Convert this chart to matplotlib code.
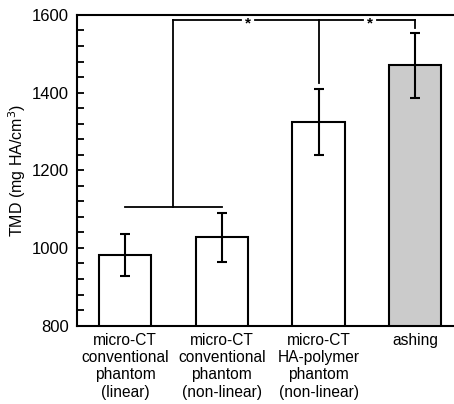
import numpy as np
import matplotlib
matplotlib.use("Agg")
import matplotlib.pyplot as plt
from matplotlib.ticker import MultipleLocator

plt.rcParams['font.family'] = ['Liberation Sans', 'DejaVu Sans']

# data
categories = ['micro-CT\nconventional\nphantom\n(linear)',
              'micro-CT\nconventional\nphantom\n(non-linear)',
              'micro-CT\nHA-polymer\nphantom\n(non-linear)',
              'ashing']
tmd = [982, 1027, 1325, 1470]
err = [55, 64, 85, 83]
colors = ['white', 'white', 'white', '#cbcbcb']

# significance bracket levels
low_bracket = 1106
top_bracket = 1586

fig = plt.figure(figsize=(4.54, 4.04), dpi=100)
ax = fig.add_axes([0.17, 0.194, 0.83, 0.769])

x = np.arange(len(categories))
ax.bar(x, tmd, width=0.54, color=colors, edgecolor='black', linewidth=1.5, zorder=2)
ax.errorbar(x, tmd, yerr=err, fmt='none', ecolor='black', elinewidth=1.5,
            capsize=3.3, capthick=1.5, zorder=3)

lw = 1.3
# lower bracket between bar 0 and bar 1
ax.plot([x[0], x[1]], [low_bracket, low_bracket], color='black', lw=lw)
mid = (x[0] + x[1]) / 2
ax.plot([mid, mid], [low_bracket, top_bracket], color='black', lw=lw)
# top bracket with gaps for asterisks
s1 = 1.27
s2 = 2.53
g = 0.07
ax.plot([mid, s1 - g], [top_bracket, top_bracket], color='black', lw=lw)
ax.plot([s1 + g, x[2]], [top_bracket, top_bracket], color='black', lw=lw)
ax.plot([x[2], s2 - g], [top_bracket, top_bracket], color='black', lw=lw)
ax.plot([s2 + g, x[3]], [top_bracket, top_bracket], color='black', lw=lw)
ax.plot([x[2], x[2]], [top_bracket, tmd[2] + err[2] + 15], color='black', lw=lw)
ax.plot([x[3], x[3]], [top_bracket, top_bracket - 20], color='black', lw=lw)
ax.text(s1, top_bracket - 8, '*', ha='center', va='center', fontsize=11, fontweight='bold')
ax.text(s2, top_bracket - 8, '*', ha='center', va='center', fontsize=11, fontweight='bold')

ax.set_ylim(800, 1600)
ax.set_xlim(-0.495, 3.4)
ax.yaxis.set_major_locator(MultipleLocator(200))
ax.yaxis.set_minor_locator(MultipleLocator(40))
ax.set_xticks(x)
ax.set_xticklabels(categories, fontsize=11.2, linespacing=1.2)
ax.tick_params(axis='x', length=0, pad=5)
ax.tick_params(axis='y', which='both', direction='in', length=5, width=1.3,
               labelsize=12, pad=6)
ax.spines['right'].set_visible(False)
for s in ['left', 'top', 'bottom']:
    ax.spines[s].set_linewidth(1.5)
ax.set_ylabel('TMD (mg HA/cm$^3$)', fontsize=11.5, labelpad=3)

fig.savefig('out.png', dpi=100)
